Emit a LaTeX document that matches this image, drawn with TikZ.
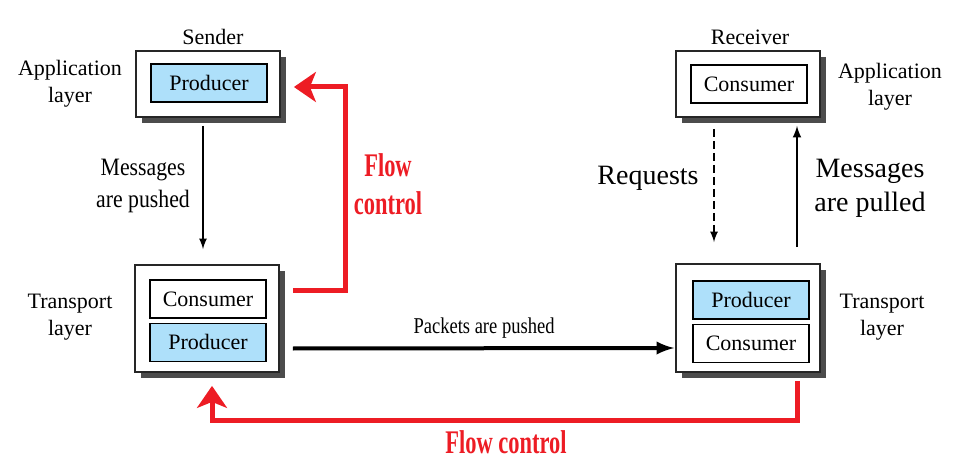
\documentclass[tikz,border=0pt]{standalone}
\usepackage{fontspec}
\setmainfont{Liberation Serif}
\usepackage{graphicx}
\usetikzlibrary{positioning,calc,shadows,arrows.meta}
\definecolor{flowred}{RGB}{237,28,36}
\definecolor{prodblue}{RGB}{174,224,250}
\tikzset{
  >=latex,
  x=0.5pt, y=-0.5pt,
}
\tikzstyle{layerbox}=[draw=black!85,line width=.9pt,fill=white,minimum width=72pt,minimum height=33pt,
  drop shadow={shadow xshift=3pt,shadow yshift=-3pt,fill=black!70,opacity=1}]
\tikzstyle{cons}=[draw,line width=.6pt,fill=white,minimum width=58pt,minimum height=19pt,inner sep=0pt,
  font=\fontsize{11}{13}\selectfont]
\tikzstyle{prod}=[cons,fill=prodblue]
\tikzstyle{lbl}=[align=center,inner sep=0pt,font=\fontsize{11}{13.5}\selectfont]
\tikzstyle{biglbl}=[align=center,inner sep=0pt,font=\fontsize{14}{17}\selectfont]
\tikzstyle{flowlbl}=[align=center,inner sep=0pt,flowred,font=\fontsize{16.5}{19}\selectfont\bfseries]
\tikzstyle{flow}=[line width=2.5pt,flowred,-{Stealth[length=11pt,width=15pt,inset=3pt]}]
\newcommand{\squeeze}[2]{\scalebox{#1}[1]{#2}}

\begin{document}
\begin{tikzpicture}
\useasboundingbox (0,0) rectangle (962,464);
% sender side
\node[layerbox] (sapp) at (208,84) {};
\node[prod] (sprod) at ($(sapp)+(1,-1)$) {Producer};
\node[layerbox,minimum height=53.5pt] (st) at (207,318.5) {};
\node[cons] (scons) at ($(st)+(1,-19.5)$) {Consumer};
\node[prod,below=2pt of scons] (sprodt) {Producer};
% receiver side
\node[layerbox] (rapp) at (748,84) {};
\node[cons] (rcons) at ($(rapp)+(1,0)$) {Consumer};
\node[layerbox,minimum height=54pt] (rt) at (748,318) {};
\node[prod] (rprod) at ($(rt)+(3,-18)$) {Producer};
\node[cons,below=2pt of rprod] (rconst) {Consumer};
% layer labels
\node[lbl] (sname) at (213,37) {Sender};
\node[lbl] (rname) at (750,37) {Receiver};
\node[lbl] (sapplbl) at (70,84) {Application\\layer};
\node[lbl] (stlbl) at (70,317) {Transport\\layer};
\node[lbl] (rapplbl) at (890,87) {Application\\layer};
\node[lbl] (rtlbl) at (882,317) {Transport\\layer};
% messages
\draw[->,line width=.8pt] ($(sapp.south)+(-5,8)$) -- ($(st.north)+(-4,-15)$);
\node[lbl,font=\fontsize{12.5}{16}\selectfont] (pushlbl) at (143,186)
  {\squeeze{.87}{Messages}\\\squeeze{.87}{are pushed}};
\draw[->,line width=.8pt,dash pattern=on 4pt off 2pt] ($(rapp.south)+(-34,11)$) -- ($(rt.north)+(-34,-21)$);
\node[biglbl] (reqlbl) at (648,178) {Requests};
\draw[->,line width=1pt] ($(rt.north)+(49,-16)$) -- ($(rapp.south)+(49,8)$);
\node[biglbl] (pulllbl) at (870,188) {Messages\\are pulled};
% packets
\draw[->,line width=2pt] ($(st.east)+(13,30)$) -- ($(rt.west)+(-1,30)$);
\node[lbl,font=\fontsize{11.3}{13}\selectfont] (pktlbl) at (484,328) {\squeeze{.82}{Packets are pushed}};
% flow control
\draw[flow] ($(st.east)+(13,-28)$) -- ++(53,0) |- ($(sapp.east)+(13,3)$);
\node[flowlbl] (flowtop) at (388,184) {\squeeze{.68}{Flow}\\\squeeze{.68}{control}};
\draw[flow] ($(rt.south)+(49,8)$) -- ++(0,40) -| ($(st.south)+(5,13)$);
\node[flowlbl] (flowbot) at (506,442) {\squeeze{.68}{Flow control}};
\end{tikzpicture}
\end{document}
